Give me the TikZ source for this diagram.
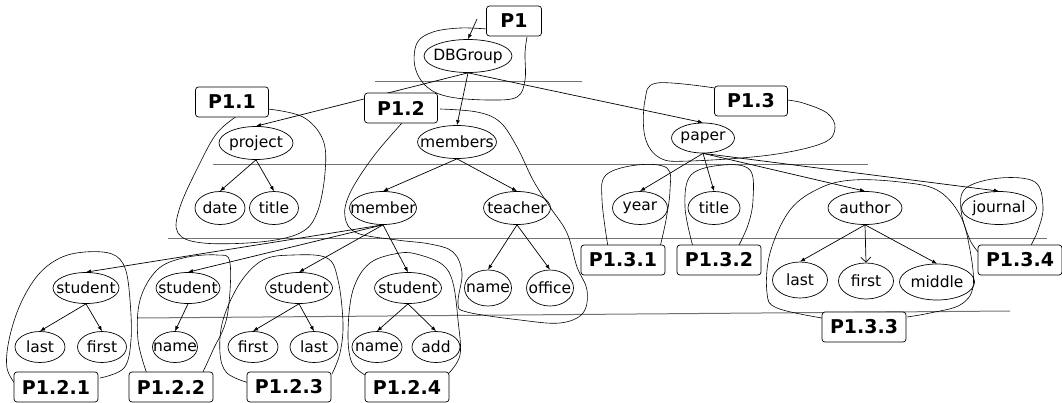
\documentclass[tikz,border=0pt]{standalone}
\usepackage{fontspec}
\setmainfont{DejaVu Sans}
\usetikzlibrary{shapes.geometric,arrows.meta}

\begin{document}
\begin{tikzpicture}[x=1pt,y=-1pt,line width=0.7pt,
    elnode/.style={ellipse,draw,inner sep=0pt,minimum width=#1,minimum height=33pt,
      font=\fontsize{15.5}{18}\selectfont,
      execute at begin node={\hbox to 0pt\bgroup\hss},
      execute at end node={\hss\egroup}},
    elnode/.default=50pt,
    partbox/.style={draw,fill=white,rounded corners=3pt,minimum width=#1,
      minimum height=30pt,inner xsep=8pt,font=\bfseries\fontsize{19}{22}\selectfont},
    partbox/.default=84pt,
    link/.style={-{Latex[length=5pt,width=4pt]}},
    hull/.style={line width=0.6pt},
    tierline/.style={draw=black!55,line width=1pt}]

\useasboundingbox (0,0) rectangle (1062,402);

% Tier lines
\draw[tierline] (375,81) -- (582,81);
\draw[tierline] (213,164) -- (868,164);
\draw[tierline] (168,238) -- (1047,238);
\draw[tierline] (137,318) -- (1010,311);

% Level 0
\node[elnode=88pt] (dbgroup) at (468,56) {DBGroup};

% Level 1
\node[elnode=74pt] (project) at (256,143) {project};
\node[elnode=79pt] (members) at (457,142) {members};
\node[elnode=63pt,minimum height=30pt] (paper) at (703,138) {paper};

% Level 2
\node[elnode] (date) at (220,208) {date};
\node[elnode=49pt] (title1) at (274,208) {title};
\node[elnode=67pt] (member) at (383,208) {member};
\node[elnode=67pt] (teacher) at (517,208) {teacher};
\node[elnode=55pt] (year) at (640,208) {year};
\node[elnode=52pt] (title2) at (714,208) {title};
\node[elnode=74pt] (author) at (865,208) {author};
\node[elnode=75pt] (journal) at (999,208) {journal};

% Level 3
\node[elnode=66pt,minimum height=31pt] (stu1) at (86,288) {student};
\node[elnode=64pt,minimum height=31pt] (stu2) at (188,288) {student};
\node[elnode=67pt,minimum height=31pt] (stu3) at (299,288) {student};
\node[elnode=67pt,minimum height=31pt] (stu4) at (408,288) {student};
\node[elnode=47pt,minimum height=36pt] (tname) at (488,288) {name};
\node[elnode=47pt,minimum height=36pt] (office) at (550,288) {office};
\node[elnode=55pt,minimum height=36pt] (alast) at (800,280) {last};
\node[elnode=55pt,minimum height=36pt] (afirst) at (866,281) {first};
\node[elnode=75pt,minimum height=36pt] (amiddle) at (937,282) {middle};

% Level 4
\node[elnode,minimum height=31pt] (last1) at (40,347) {last};
\node[elnode=49pt,minimum height=31pt] (first1) at (102,347) {first};
\node[elnode=45pt,minimum height=31pt] (name2) at (175,347) {name};
\node[elnode,minimum height=31pt] (first3) at (253,347) {first};
\node[elnode=48pt,minimum height=31pt] (last3) at (314,347) {last};
\node[elnode,minimum height=31pt] (name4) at (377,347) {name};
\node[elnode=48pt,minimum height=31pt] (add4) at (436,347) {add};

% Hulls
\draw[hull] plot[smooth,tension=0.6] coordinates {(487,29) (460,28) (433,32) (417,43)
  (415,67) (427,87) (450,97) (490,100) (517,97) (525,80) (525,53) (527,37)};
\draw[hull] plot[smooth,tension=0.6] coordinates {(268,109) (303,117) (323,140)
  (325,173) (317,213) (300,233) (260,242) (203,243) (178,233) (180,207) (200,163)
  (217,133) (237,116)};
\draw[hull] plot[smooth,tension=0.6] coordinates {(402,123) (373,157) (350,193)
  (345,217) (357,233) (397,240) (430,244) (453,252) (462,273) (458,303) (467,312)
  (520,320) (560,323) (583,313) (587,290) (577,267) (567,233) (550,207) (533,180)
  (517,147) (500,122) (477,112) (440,109)};
\draw[hull] plot[smooth,tension=0.6] coordinates {(715,88) (657,83) (645,100)
  (645,137) (660,158) (690,161) (770,155) (823,143) (835,128) (827,113) (803,103)
  (787,100)};
\draw[hull] plot[smooth,tension=0.6] coordinates {(16,385) (7,368) (9,340) (20,305)
  (38,275) (60,258) (85,252) (112,254) (125,268) (130,300) (131,340) (124,368)
  (100,378)};
\draw[hull] plot[smooth,tension=0.6] coordinates {(147,374) (138,340) (140,300)
  (157,270) (183,258) (217,255) (230,263) (227,317) (213,350) (202,374)};
\draw[hull] plot[smooth,tension=0.6] coordinates {(249,383) (227,373) (220,353)
  (223,320) (240,283) (263,260) (293,255) (327,258) (338,280) (343,323) (340,353)
  (332,374)};
\draw[hull] plot[smooth,tension=0.6] coordinates {(367,376) (352,363) (348,333)
  (353,290) (370,263) (400,253) (420,255) (443,265) (453,283) (458,320) (460,355)
  (448,374)};
\draw[hull] plot[smooth,tension=0.6] coordinates {(608,247) (602,200) (606,175)
  (637,165) (667,168) (670,190) (666,220) (660,247)};
\draw[hull] plot[smooth,tension=0.6] coordinates {(693,247) (685,207) (691,175)
  (723,165) (750,170) (753,200) (748,225) (738,247)};
\draw[hull] plot[smooth,tension=0.6] coordinates {(822,318) (777,308) (767,293)
  (770,253) (790,210) (820,188) (853,180) (900,182) (937,190) (960,215) (970,250)
  (973,287) (960,305) (930,313) (907,317)};
\draw[hull] plot[smooth,tension=0.6] coordinates {(981,255) (970,240) (961,210)
  (966,188) (1000,178) (1035,182) (1043,207) (1038,230) (1030,247)};

% Edges
\coordinate (entry) at (477,19);
\draw[link] (entry) -- (dbgroup.north);
\draw[link] (dbgroup.south) -- (project.north);
\draw[link] (dbgroup.south) -- (members.north);
\draw[link] (dbgroup.south) -- (paper.north);
\draw[link] (project.south) -- (date.north);
\draw[link] (project.south) -- (title1.north);
\draw[link] (members.south) -- (member.north);
\draw[link] (members.south) -- (teacher.north);
\draw[link] (paper.south) -- (year.north);
\draw[link] (paper.south) -- (title2.north);
\draw[link] (paper.south) -- (author.north);
\draw[link] (paper.south) -- (journal.north);
\draw[link] (member.south) -- (stu1.north);
\draw[link] (member.south) -- (stu2.north);
\draw[link] (member.south) -- (stu3.north);
\draw[link] (member.south) -- (stu4.north);
\draw[link] (teacher.south) -- (tname.north);
\draw[link] (teacher.south) -- (office.north);
\draw[link] (author.south) -- (alast.north);
\draw[-{Straight Barb[length=5pt]}] (author.south) -- (afirst.north);
\draw[link] (author.south) -- (amiddle.north);
\draw[link] (stu1.south) -- (last1.north);
\draw[link] (stu1.south) -- (first1.north);
\draw[link] (stu2.south) -- (name2.north);
\draw[link] (stu3.south) -- (first3.north);
\draw[link] (stu3.south) -- (last3.north);
\draw[link] (stu4.south) -- (name4.north);
\draw[link] (stu4.south) -- (add4.north);

% Part labels
\node[partbox=55pt] (p1) at (514,21) {P1};
\node[partbox=73pt] (p11) at (232,102) {P1.1};
\node[partbox=73pt] (p12) at (401,108) {P1.2};
\node[partbox=73pt] (p13) at (751,101) {P1.3};
\node[partbox] (p121) at (56,387) {P1.2.1};
\node[partbox] (p122) at (171,387) {P1.2.2};
\node[partbox] (p123) at (289,387) {P1.2.3};
\node[partbox] (p124) at (407,387) {P1.2.4};
\node[partbox] (p131) at (623,260) {P1.3.1};
\node[partbox] (p132) at (719,260) {P1.3.2};
\node[partbox] (p133) at (864,327) {P1.3.3};
\node[partbox] (p134) at (1020,260) {P1.3.4};
\end{tikzpicture}
\end{document}
